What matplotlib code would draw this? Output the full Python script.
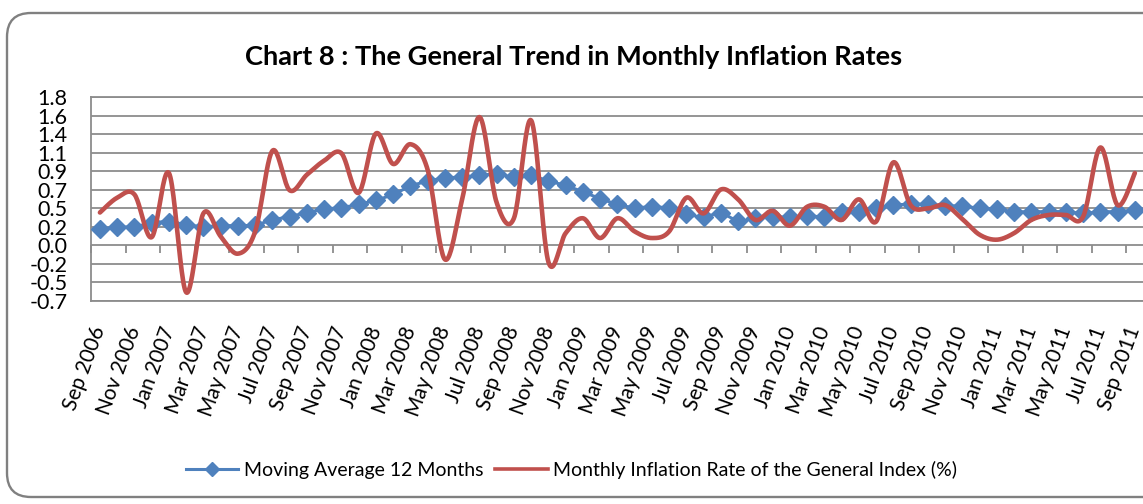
import numpy as np
import matplotlib
matplotlib.use("Agg")
import matplotlib.pyplot as plt
from matplotlib.patches import FancyBboxPatch
from matplotlib.lines import Line2D

plt.rcParams['font.family'] = ['Lato', 'DejaVu Sans']

# ---------------- data ----------------
tick_labels = ['Sep 2006', 'Nov 2006', 'Jan 2007', 'Mar 2007', 'May 2007', 'Jul 2007',
               'Sep 2007', 'Nov 2007', 'Jan 2008', 'Mar 2008', 'May 2008', 'Jul 2008',
               'Sep 2008', 'Nov 2008', 'Jan 2009', 'Mar 2009', 'May 2009', 'Jul 2009',
               'Sep 2009', 'Nov 2009', 'Jan 2010', 'Mar 2010', 'May 2010', 'Jul 2010',
               'Sep 2010', 'Nov 2010', 'Jan 2011', 'Mar 2011', 'May 2011', 'Jul 2011',
               'Sep 2011']

moving_avg = [0.20, 0.22, 0.23, 0.27, 0.29, 0.25, 0.23, 0.24, 0.24, 0.25,
              0.31, 0.35, 0.40, 0.44, 0.46, 0.50, 0.55, 0.62, 0.72, 0.78,
              0.82, 0.83, 0.85, 0.87, 0.83, 0.85, 0.78, 0.73, 0.65, 0.57,
              0.50, 0.46, 0.47, 0.45, 0.38, 0.35, 0.39, 0.30, 0.33, 0.35,
              0.34, 0.36, 0.35, 0.41, 0.41, 0.45, 0.49, 0.50, 0.50, 0.48,
              0.48, 0.45, 0.44, 0.41, 0.41, 0.41, 0.41, 0.39, 0.41, 0.41,
              0.43]

monthly_rate = [0.40, 0.58, 0.62, 0.10, 0.88, -0.57, 0.39, 0.11, -0.10, 0.17,
                1.15, 0.67, 0.86, 1.03, 1.12, 0.64, 1.36, 0.99, 1.23, 0.92,
                -0.17, 0.56, 1.56, 0.52, 0.33, 1.52, -0.20, 0.15, 0.33, 0.09,
                0.33, 0.17, 0.09, 0.17, 0.58, 0.39, 0.68, 0.56, 0.31, 0.42,
                0.24, 0.47, 0.47, 0.31, 0.56, 0.29, 1.01, 0.49, 0.45, 0.49,
                0.32, 0.13, 0.07, 0.15, 0.31, 0.37, 0.37, 0.35, 1.19, 0.49,
                0.88]

y_ticks = [-0.675, -0.45, -0.225, 0.0, 0.225, 0.45, 0.675, 0.9, 1.125, 1.35, 1.575, 1.8]
y_tick_labels = ['-0.7', '-0.5', '-0.2', '0.0', '0.2', '0.5', '0.7', '0.9', '1.1', '1.4', '1.6', '1.8']

series_names = ['Moving Average 12 Months', 'Monthly Inflation Rate of the General Index (%)']
title = 'Chart 8 : The General Trend in Monthly Inflation Rates'

BLUE = '#4F81BD'
RED = '#C0504D'
GRID = '#8c8c8c'


def smooth(xv, yv, n=24):
    pts = np.column_stack([xv, yv]).astype(float)
    P = np.vstack([pts[0], pts, pts[-1]])
    out = []
    t = np.linspace(0, 1, n)[:, None]
    for i in range(len(pts) - 1):
        p0, p1, p2, p3 = P[i], P[i + 1], P[i + 2], P[i + 3]
        c1 = p1 + (p2 - p0) / 6.0
        c2 = p2 - (p3 - p1) / 6.0
        seg = (1 - t) ** 3 * p1 + 3 * (1 - t) ** 2 * t * c1 + 3 * (1 - t) * t ** 2 * c2 + t ** 3 * p2
        out.append(seg if i == 0 else seg[1:])
    s = np.vstack(out)
    return s[:, 0], s[:, 1]


W, H = 1143, 504
fig = plt.figure(figsize=(W / 100, H / 100), dpi=100)

# rounded chart border
border = FancyBboxPatch((0.07, 0.07), 11.8, 4.84,
                        boxstyle='round,pad=0,rounding_size=0.24',
                        transform=fig.dpi_scale_trans, facecolor='none',
                        edgecolor='#808080', linewidth=1.7, zorder=-5)
fig.patches.append(border)

left, right, top, bottom = 91.3, 1143.5, 97.3, 301.0
ax = fig.add_axes([left / W, (H - bottom) / H, (right - left) / W, (bottom - top) / H])
ax.set_facecolor('none')

x = np.arange(len(moving_avg))
ax.set_xlim(-0.5, len(moving_avg) - 0.5)
ax.set_ylim(y_ticks[0], y_ticks[-1])

# grid
ax.set_yticks(y_ticks)
ax.set_yticklabels(y_tick_labels)
ax.yaxis.grid(True, color=GRID, linewidth=1.3)
ax.set_axisbelow(True)
ax.tick_params(axis='y', length=0, pad=17, labelsize=15.5)
for s in ['top', 'bottom']:
    ax.spines[s].set_color(GRID)
    ax.spines[s].set_linewidth(1.3)
ax.spines['left'].set_color(GRID)
ax.spines['left'].set_linewidth(1.3)
ax.spines['right'].set_visible(False)

# category labels
ax.set_xticks(x[::2])
ax.set_xticklabels(tick_labels, rotation=70, rotation_mode='anchor', ha='right', va='center')
ax.tick_params(axis='x', length=0, pad=19, labelsize=15)

# tick marks on the zero axis (between categories)
zero_pos = (0 - y_ticks[0]) / (y_ticks[-1] - y_ticks[0])
sec = ax.secondary_xaxis(zero_pos)
sec.set_xticks(np.arange(-0.5, len(moving_avg), 2))
sec.tick_params(axis='x', direction='out', length=6, width=1.3, color=GRID, labelbottom=False,
                labeltop=False)
for s in sec.spines.values():
    s.set_visible(False)

# series
xs, ys = smooth(x, moving_avg)
ax.plot(xs, ys, color=BLUE, linewidth=2.2, zorder=3)
ax.plot(x, moving_avg, linestyle='none', marker='D', markersize=8.8, color=BLUE,
        markeredgecolor=BLUE, zorder=3)
xr, yr = smooth(x, monthly_rate)
ax.plot(xr, yr, color=RED, linewidth=3.3, zorder=4, solid_capstyle='round')

# title
fig.text(0.502, (H - 57) / H, title, ha='center', va='center', fontsize=19.6, fontweight='bold')

# legend
handles = [Line2D([], [], color=BLUE, linewidth=2.2, marker='D', markersize=7),
           Line2D([], [], color=RED, linewidth=2.6)]
fig.legend(handles, series_names, loc='center', bbox_to_anchor=(0.5, (H - 470) / H),
           ncol=2, frameon=False, fontsize=14, handlelength=2.7, handletextpad=0.3,
           columnspacing=0.6)

fig.savefig('out.png', dpi=100)
